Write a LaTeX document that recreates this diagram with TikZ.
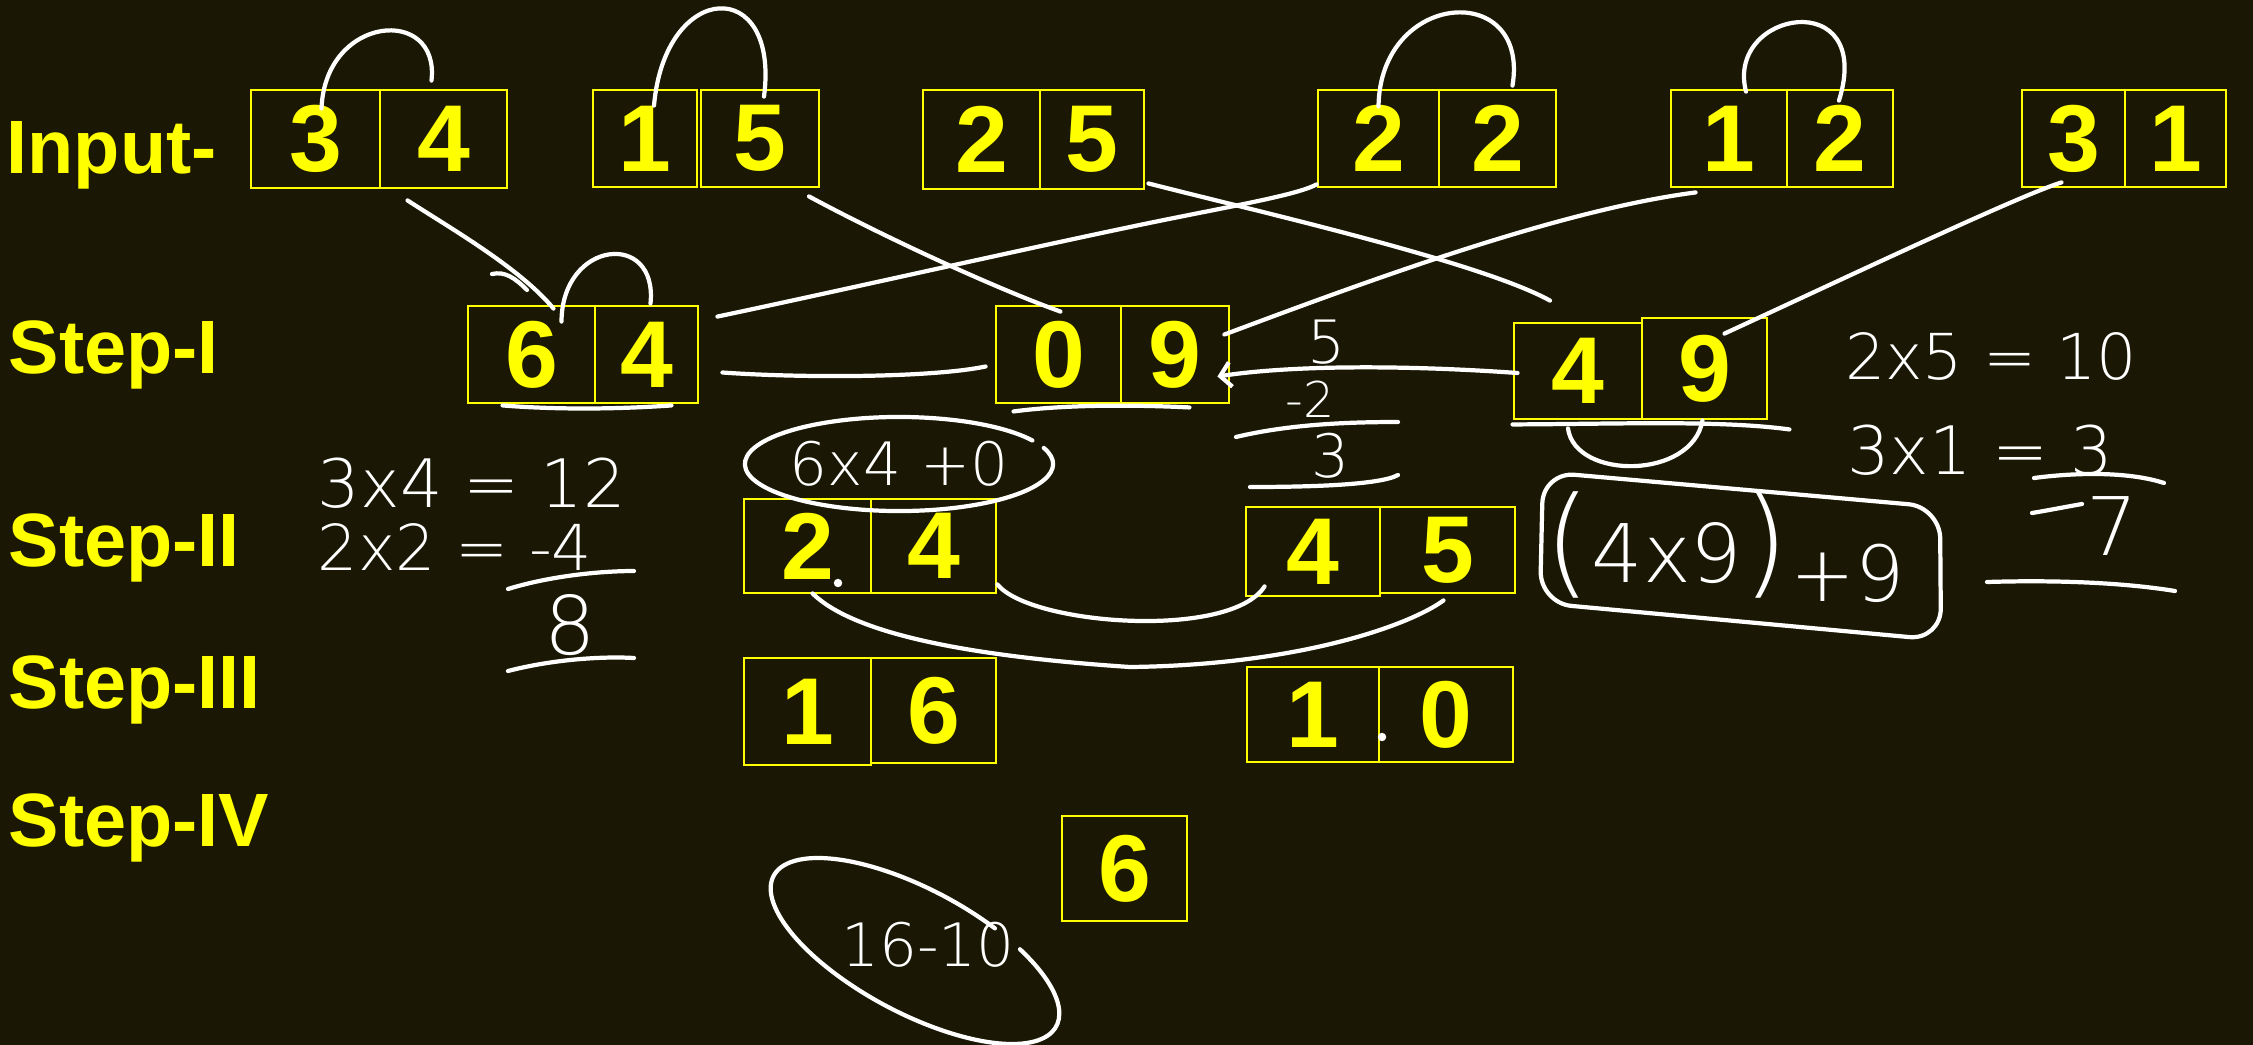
\documentclass[tikz,border=0pt]{standalone}
\usepackage{fontspec}
\setmainfont{Liberation Sans}
\IfFontExistsTF{DejaVu Sans ExtraLight}
  {\newfontfamily\hand{DejaVu Sans ExtraLight}}
  {\newfontfamily\hand{DejaVu Sans}}
\usepackage{xcolor}
\usepackage{tikz}
\usetikzlibrary{positioning, arrows.meta, calc}
\definecolor{board}{RGB}{26,24,4}
\definecolor{chalkyellow}{HTML}{FFFF00}

\tikzset{
  cell/.style={draw=chalkyellow, line width=0.8pt, text=chalkyellow, inner sep=0pt,
    font=\bfseries\fontsize{27}{27}\selectfont},
  sz/.style 2 args={minimum width=#1cm, minimum height=#2cm},
  steplabel/.style={anchor=base west, text=chalkyellow, inner sep=0pt,
    font=\bfseries\fontsize{21.5}{21.5}\selectfont},
  ink/.style={draw=white, line width=1.2pt, line cap=round},
  scribble/.style={text=white, inner sep=0pt, font=\hand\fontsize{#1}{#1}\selectfont},
}

\begin{document}
\begin{tikzpicture}[x=0.01cm, y=-0.01cm]
  \useasboundingbox (0,0) rectangle (2253,1045);
  \fill[board] (0,0) rectangle (2253,1045);

  % row labels
  \node[steplabel] (lblin) at (6,173) {Input-};
  \node[steplabel] (lbl1) at (8,373) {Step-I};
  \node[steplabel] (lbl2) at (8,566) {Step-II};
  \node[steplabel] (lbl3) at (8,708) {Step-III};
  \node[steplabel] (lbl4) at (8,846) {Step-IV};

  % input pairs
  \node[cell, sz={1.29}{0.98}] (in1a) at (315.5,139) {3};
  \node[cell, sz={1.27}{0.98}] (in1b) at (443.5,139) {4};
  \node[cell, sz={1.04}{0.97}] (in2a) at (645,138.5) {1};
  \node[cell, sz={1.18}{0.97}] (in2b) at (760,138.5) {5};
  \node[cell, sz={1.17}{0.99}] (in3a) at (981.5,139.5) {2};
  \node[cell, sz={1.04}{0.99}] (in3b) at (1092,139.5) {5};
  \node[cell, sz={1.21}{0.97}] (in4a) at (1378.5,138.5) {2};
  \node[cell, sz={1.17}{0.97}] (in4b) at (1497.5,138.5) {2};
  \node[cell, sz={1.16}{0.97}] (in5a) at (1729,138.5) {1};
  \node[cell, sz={1.06}{0.97}] (in5b) at (1840,138.5) {2};
  \node[cell, sz={1.03}{0.97}] (in6a) at (2073.5,138.5) {3};
  \node[cell, sz={1.01}{0.97}] (in6b) at (2175.5,138.5) {1};

  % step I
  \node[cell, sz={1.27}{0.97}] (one1a) at (531.5,354.5) {6};
  \node[cell, sz={1.03}{0.97}] (one1b) at (646.5,354.5) {4};
  \node[cell, sz={1.25}{0.97}] (one2a) at (1058.5,354.5) {0};
  \node[cell, sz={1.08}{0.97}] (one2b) at (1175,354.5) {9};
  \node[cell, sz={1.28}{0.96}] (one3a) at (1578,371) {4};
  \node[cell, sz={1.25}{1.01}] (one3b) at (1704.5,368.5) {9};

  % step II
  \node[cell, sz={1.27}{0.94}] (two1a) at (807.5,546) {2};
  \node[cell, sz={1.25}{0.94}] (two1b) at (933.5,546) {4};
  \node[cell, sz={1.34}{0.89}] (two2a) at (1313,551.5) {4};
  \node[cell, sz={1.35}{0.86}] (two2b) at (1447.5,550) {5};

  % step III
  \node[cell, sz={1.27}{1.07}] (three1a) at (807.5,711.5) {1};
  \node[cell, sz={1.25}{1.05}] (three1b) at (933.5,710.5) {6};
  \node[cell, sz={1.32}{0.95}] (three2a) at (1313,714.5) {1};
  \node[cell, sz={1.34}{0.95}] (three2b) at (1446,714.5) {0};

  % step IV
  \node[cell, sz={1.25}{1.05}] (four) at (1124.5,868.5) {6};

  % handwritten working
  \node[scribble=19] (n34) at (472,483) {3x4 = 12};
  \node[scribble=18] (n22) at (455,547) {2x2 = -4};
  \node[scribble=23] (n8) at (570,625) {8};
  \node[scribble=17] (n64) at (899,464) {6x4 +0};
  \node[scribble=17] (n5) at (1327,342) {5};
  \node[scribble=14] (n2) at (1310,399) {-2};
  \node[scribble=17] (n3) at (1331,456) {3};
  \node[scribble=18] (n25) at (1991,356) {2x5 = 10};
  \node[scribble=19] (n31) at (1980,450) {3x1 = 3};
  \node[scribble=23] (n7) at (2112,526) {7};
  \node[scribble=23] (n49) at (1667,545) {{\fontsize{34}{34}\selectfont(}4x9{\fontsize{34}{34}\selectfont)}};
  \node[scribble=22] (n9) at (1848,573) {+9};
  \node[scribble=17] (n16) at (928,945) {16-10};

  % loops over the input pairs
  \draw[ink] ($(in1a.north)+(6,20)$) .. controls (325,15) and (440,5) .. ($(in1b.north)+(-12,-8)$);
  \draw[ink] ($(in2a.north)+(9,17)$) .. controls (665,-20) and (780,-25) .. ($(in2b.north)+(4,8)$);
  \draw[ink] ($(in4a.north)+(0,18)$) .. controls (1380,-10) and (1530,-20) .. ($(in4b.north)+(15,-3)$);
  \draw[ink] ($(in5a.north)+(17,3)$) .. controls (1725,10) and (1875,-15) .. ($(in5b.north)+(-1,12)$);
  \draw[ink] ($(one1a.north)+(30,17)$) .. controls (562,240) and (658,230) .. ($(one1b.north)+(4,-1)$);

  % crossing lines between the rows
  \draw[ink] ($(in1b.south west)+(29,11)$) .. controls (450,228) and (520,268) .. ($(one1a.north)+(22,4)$);
  \draw[ink] (492,274) .. controls (505,271) and (515,278) .. (527,290);
  \draw[ink] ($(in2b.south)+(49,8)$) .. controls (890,240) and (1000,290) .. ($(one2a.north)+(2,7)$);
  \draw[ink] ($(one1b.north east)+(18,12)$) .. controls (820,295) and (1020,250) .. (1130,227)
    .. controls (1220,208) and (1295,196) .. ($(in4a.south west)+(0,-4)$);
  \draw[ink] ($(one1b.east)+(23,18)$) .. controls (800,378) and (930,378) .. ($(one2a.west)+(-9,12)$);
  \draw[ink] ($(in3b.south east)+(3,-7)$) .. controls (1260,212) and (1480,262) .. ($(one3a.north)+(-28,-21)$);
  \draw[ink] ($(in5a.south west)+(26,4)$) .. controls (1560,210) and (1370,280) .. ($(one2b.east)+(-6,-20)$);
  \draw[ink] ($(in6a.south)+(-12,-6)$) .. controls (2020,195) and (1830,285) .. ($(one3b.north)+(20,17)$);
  \draw[ink, -{Straight Barb[length=3pt, width=7pt]}] ($(one3a.west)+(5,2)$)
    .. controls (1420,366) and (1300,364) .. ($(one2b.east)+(-13,22)$);

  % underlines and sums
  \draw[ink] ($(one1a.south west)+(36,1)$) .. controls (560,410) and (620,409) .. ($(one1b.south east)+(-28,1)$);
  \draw[ink] ($(one2a.south west)+(19,7)$) .. controls (1070,404) and (1140,405) .. ($(one2b.south east)+(-41,3)$);
  \draw[ink] (1236,437) .. controls (1290,424) and (1350,422) .. (1398,422);
  \draw[ink] (1250,487) .. controls (1310,487) and (1380,485) .. (1398,475);
  \draw[ink] ($(one3a.south west)+(0,4)$) .. controls (1620,424) and (1720,420) .. ($(one3b.south east)+(21,9)$);
  \draw[ink] ($(one3a.south)+(-10,8)$) .. controls (1575,480) and (1692,480) .. ($(one3b.south)+(-2,0)$);
  \draw[ink] (2034,478) .. controls (2080,472) and (2130,472) .. (2164,483);
  \draw[ink] (2032,513) .. controls (2050,510) and (2065,507) .. (2082,504);
  \draw[ink] (1987,582) .. controls (2050,580) and (2120,582) .. (2175,591);
  \draw[ink] (508,589) .. controls (550,576) and (600,571) .. (634,571);
  \draw[ink] (508,671) .. controls (550,660) and (600,656) .. (634,658);

  % rings round the working
  \draw[ink, rounded corners=9pt] (1543,472) -- (1940,507) -- (1941,640) -- (1540,603) -- cycle;
  \draw[ink] ($(n64)+(30:1.54cm and 0.47cm)$) arc[start angle=30, end angle=380, x radius=1.54cm, y radius=0.47cm];
  \begin{scope}[shift={(915,951)}, rotate=-28]
    \draw[ink] (68:1.6cm and 0.62cm) arc[start angle=68, end angle=415, x radius=1.6cm, y radius=0.62cm];
  \end{scope}

  % step II to step III
  \draw[ink] ($(two1a.south)+(5,-1)$) .. controls (850,630) and (950,655) .. (1130,667)
    .. controls (1300,665) and (1410,625) .. ($(two2b.south)+(-4,6)$);
  \draw[ink] ($(two1b.south east)+(0,-10)$) .. controls (1030,625) and (1230,640) .. ($(two2a.south west)+(20,-11)$);

  \fill[white] (838,583) circle[radius=1.2pt];
  \fill[white] (1382,737) circle[radius=1.2pt];
\end{tikzpicture}
\end{document}
